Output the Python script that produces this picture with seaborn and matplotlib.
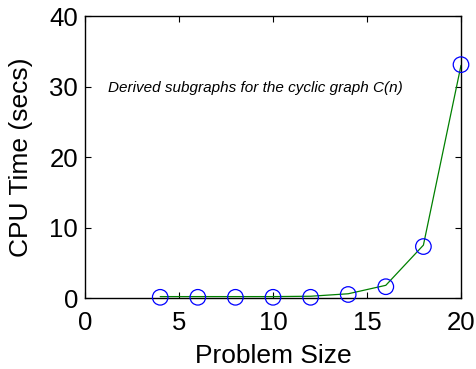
import matplotlib
matplotlib.use("Agg")
import matplotlib.pyplot as plt
import seaborn as sns
import pandas as pd

problem_size = [4, 6, 8, 10, 12, 14, 16, 18, 20]
cpu_measured = [0.1, 0.1, 0.1, 0.1, 0.1, 0.5, 1.6, 7.3, 33.1]
cpu_line = [0.2, 0.2, 0.2, 0.2, 0.25, 0.6, 1.8, 7.5, 33.0]
x_ticks = [0, 5, 10, 15, 20]
y_ticks = [0, 10, 20, 30, 40]
annotation = "Derived subgraphs for the cyclic graph C(n)"

sns.set_theme(style="white")
plt.rcParams['font.family'] = ['Liberation Sans', 'DejaVu Sans']

df = pd.DataFrame({"size": problem_size, "measured": cpu_measured, "line": cpu_line})

fig = plt.figure(figsize=(4.76, 3.69), dpi=100)
ax = fig.add_axes([0.1786, 0.1924, 0.7899, 0.7642])

sns.lineplot(data=df, x="size", y="line", ax=ax, color="#008000", linewidth=0.9)
sns.scatterplot(data=df, x="size", y="measured", ax=ax, marker="o", s=125,
                facecolor="none", edgecolor="#0000ff", linewidth=0.9, zorder=3,
                clip_on=False)

ax.set_xlim(0, 20)
ax.set_ylim(0, 40)
ax.set_xticks(x_ticks)
ax.set_yticks(y_ticks)
ax.tick_params(direction="in", length=4, width=0.8, labelsize=18.5, colors="black",
               top=True, right=True, bottom=True, left=True)
ax.tick_params(axis="x", pad=9)
ax.tick_params(axis="y", pad=5)
for s in ax.spines.values():
    s.set_color("black")
    s.set_linewidth(1.0)
ax.set_xlabel("Problem Size", fontsize=19, color="black", labelpad=7)
ax.set_ylabel("CPU Time (secs)", fontsize=19, color="black", labelpad=12)
ax.text(1.2, 29.8, annotation, fontsize=11, style="italic", color="black", va="center")

fig.savefig("out.png", dpi=100)
